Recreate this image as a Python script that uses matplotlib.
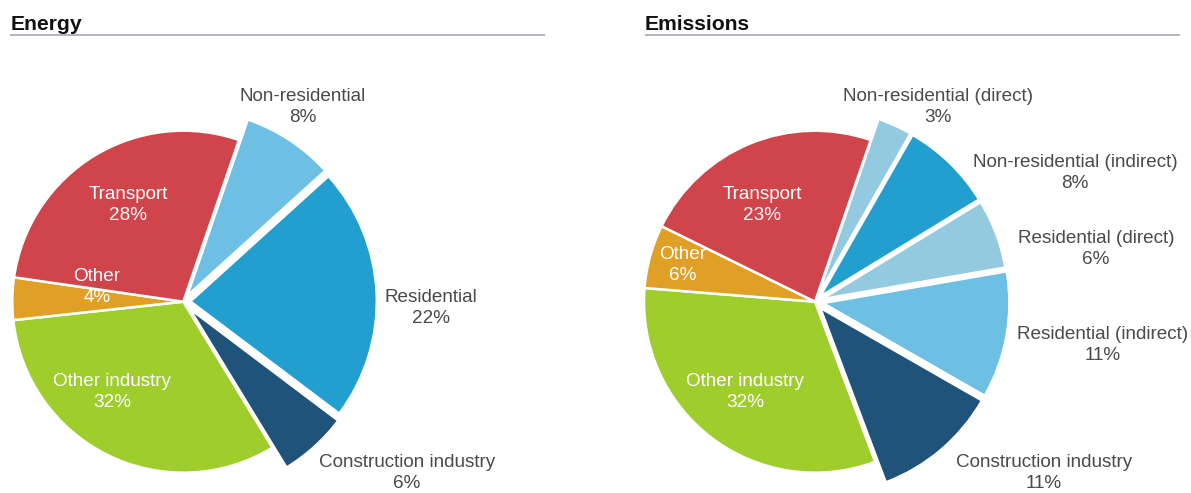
import matplotlib
matplotlib.use("Agg")
import matplotlib.pyplot as plt

# ---------------- data ----------------
energy_labels = ["Non-residential", "Residential", "Construction industry",
                 "Other industry", "Other", "Transport"]
energy_values = [8, 22, 6, 32, 4, 28]

emis_labels = ["Non-residential (direct)", "Non-residential (indirect)",
               "Residential (direct)", "Residential (indirect)",
               "Construction industry", "Other industry", "Other", "Transport"]
emis_values = [3, 8, 6, 11, 11, 32, 6, 23]

# ---------------- styles ----------------
C_TRANSPORT = "#d0454c"
C_OTHER = "#e0a026"
C_OIND = "#9fcd2c"
C_CONS = "#1f5379"
C_MID = "#229fce"
C_LIGHT = "#6dc0e3"
C_PALE = "#94cae0"

energy_colors = [C_LIGHT, C_MID, C_CONS, C_OIND, C_OTHER, C_TRANSPORT]
emis_colors = [C_PALE, C_MID, C_PALE, C_LIGHT, C_CONS, C_OIND, C_OTHER, C_TRANSPORT]

# explode offsets in pixels
energy_explode = [7, 7, 9, 0, 0, 0]
emis_explode = [7, 7, 7, 8, 8, 0, 0, 0]
inside = {"Transport", "Other", "Other industry"}

W, H = 1191, 493
plt.rcParams['font.family'] = ['Liberation Sans', 'DejaVu Sans']

fig = plt.figure(figsize=(W / 100, H / 100), dpi=100)
ax = fig.add_axes([0, 0, 1, 1])

R = 171.0
R_BIG = 186.5
START = 71


def draw_pie(values, colors, explode, center):
    wedges, _ = ax.pie(values, colors=colors, explode=explode, radius=R,
                       center=center, startangle=START, counterclock=False,
                       wedgeprops=dict(edgecolor="white", linewidth=1.8),
                       frame=True)
    for w, e in zip(wedges, explode):
        if e:
            w.set_radius(R_BIG)
    return wedges


draw_pie(energy_values, energy_colors, energy_explode, (183.3, H - 301.7))
draw_pie(emis_values, emis_colors, emis_explode, (815.0, H - 301.7))

# ---------------- labels (text anchor positions, image pixels) ----------------
energy_label_pos = [(303, 107), (431, 308), (407, 473), (112, 392), (97, 287), (128, 205)]
emis_label_pos = [(938, 107), (1075, 173), (1096, 249), (1103, 345), (1044, 473),
                  (745, 392), (683, 265), (762, 205)]


def put_labels(labels, values, positions):
    for lab, val, (x, y) in zip(labels, values, positions):
        col = "white" if lab in inside else "#4a4a4a"
        ax.text(x, H - y, f"{lab}\n{val}%", ha="center", va="center",
                fontsize=13.6, color=col, linespacing=1.38)


put_labels(energy_labels, energy_values, energy_label_pos)
put_labels(emis_labels, emis_values, emis_label_pos)

# ---------------- titles with rules ----------------
ax.text(11, H - 30, "Energy", fontsize=15.2, fontweight="bold", color="#111111",
        ha="left", va="baseline")
ax.text(645, H - 30, "Emissions", fontsize=15.2, fontweight="bold", color="#111111",
        ha="left", va="baseline")
ax.plot([10, 545], [H - 34.5, H - 34.5], color="#a3aab2", lw=1.2, solid_capstyle="butt")
ax.plot([645, 1180], [H - 34.5, H - 34.5], color="#a3aab2", lw=1.2, solid_capstyle="butt")

ax.set_xlim(0, W)
ax.set_ylim(0, H)
ax.set_aspect("auto")
ax.axis("off")

fig.savefig("out.png", dpi=100, facecolor="white")
